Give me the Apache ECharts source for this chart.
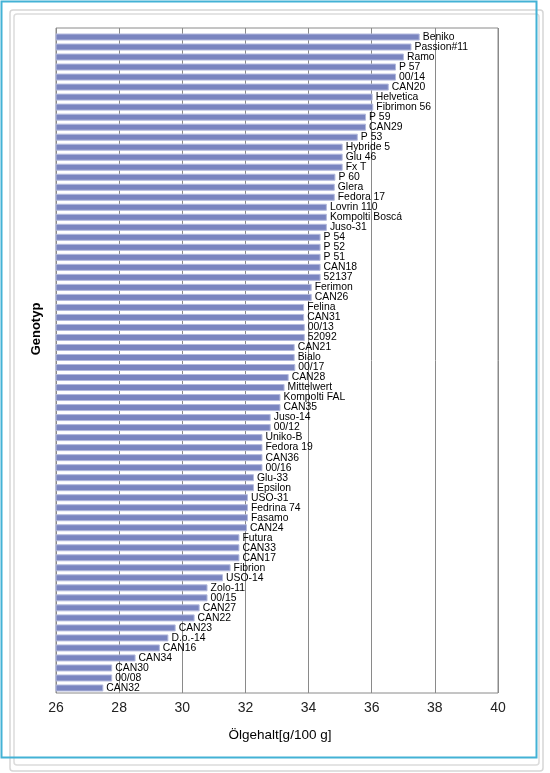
<!DOCTYPE html>
<html>
<head>
<meta charset="utf-8">
<script src="https://cdn.jsdelivr.net/npm/echarts@6/dist/echarts.min.js"></script>
<style>
html,body{margin:0;padding:0;background:#fff;}
#chart{width:550px;height:773px;}
</style>
</head>
<body>
<div id="chart"></div>
<script>
const categories = ["Beniko","Passion#11","Ramo","P 57","00/14","CAN20","Helvetica","Fibrimon 56","P 59","CAN29","P 53","Hybride 5","Glu 46","Fx T","P 60","Glera","Fedora 17","Lovrin 110","Kompolti Boscá","Juso-31","P 54","P 52","P 51","CAN18","52137","Ferimon","CAN26","Felina","CAN31","00/13","52092","CAN21","Bialo","00/17","CAN28","Mittelwert","Kompolti FAL","CAN35","Juso-14","00/12","Uniko-B","Fedora 19","CAN36","00/16","Glu-33","Epsilon","USO-31","Fedrina 74","Fasamo","CAN24","Futura","CAN33","CAN17","Fibrion","USO-14","Zolo-11","00/15","CAN27","CAN22","CAN23","D.o.-14","CAN16","CAN34","CAN30","00/08","CAN32"];
const oilContent = [37.52,37.26,37.02,36.77,36.77,36.54,36.03,36.05,35.82,35.82,35.56,35.08,35.08,35.08,34.85,34.83,34.83,34.58,34.58,34.58,34.38,34.38,34.38,34.38,34.38,34.1,34.1,33.86,33.86,33.88,33.88,33.56,33.56,33.58,33.37,33.24,33.11,33.11,32.8,32.8,32.54,32.54,32.54,32.54,32.27,32.27,32.08,32.08,32.08,32.05,31.81,31.81,31.81,31.53,31.29,30.8,30.8,30.55,30.39,29.79,29.56,29.29,28.52,27.78,27.78,27.5];
const xTicks = {min: 26, max: 40, interval: 2};
const xTitle = "Ölgehalt[g/100 g]";
const yTitle = "Genotyp";

const chart = echarts.init(document.getElementById('chart'), null, {renderer: 'canvas'});
const font = '"Liberation Sans", Arial, sans-serif';
chart.setOption({
  animation: false,
  backgroundColor: '#fff',
  grid: [
    {left: 56, right: 52, top: 32, bottom: 80, show: false},
    {left: 56, right: 52, top: 28, bottom: 80, show: true, borderColor: '#8a8a8a', borderWidth: 1, backgroundColor: 'transparent'}
  ],
  xAxis: [
    {type: 'value', gridIndex: 0, min: xTicks.min, max: xTicks.max, interval: xTicks.interval,
     axisLine: {show: false}, axisTick: {show: false}, splitLine: {show: false},
     axisLabel: {margin: 8, fontSize: 14, color: '#222', fontFamily: font}},
    {type: 'value', gridIndex: 1, min: xTicks.min, max: xTicks.max, interval: xTicks.interval,
     axisLine: {show: false}, axisTick: {show: false}, axisLabel: {show: false},
     splitLine: {show: true, lineStyle: {color: '#8a8a8a', width: 1}}}
  ],
  yAxis: [
    {type: 'category', gridIndex: 0, data: categories, inverse: true,
     axisLine: {show: false}, axisTick: {show: false}, axisLabel: {show: false}, splitLine: {show: false}},
    {type: 'value', gridIndex: 1, min: 0, max: 1,
     axisLine: {show: false}, axisTick: {show: false}, axisLabel: {show: false}, splitLine: {show: false}}
  ],
  series: [{
    type: 'bar', xAxisIndex: 0, yAxisIndex: 0, data: oilContent, barWidth: 7, z: 3,
    itemStyle: {color: '#7a85c0', borderColor: '#b3b9dd', borderWidth: 1},
    label: {show: true, position: 'right', distance: 3, formatter: p => p.name,
            fontSize: 10.4, color: '#000', fontFamily: font}
  }],
  graphic: [
    {type: 'rect', z: 0, shape: {x: 10, y: 10, width: 533, height: 761, r: 3}, style: {fill: 'none', stroke: '#d6d6d6', lineWidth: 1.5}},
    {type: 'rect', z: 0, shape: {x: 14, y: 14, width: 525, height: 751, r: 3}, style: {fill: 'none', stroke: '#dcdcdc', lineWidth: 1.5}},
    {type: 'rect', z: 1, shape: {x: 1.5, y: 1.5, width: 535, height: 756}, style: {fill: 'none', stroke: '#43b2d5', lineWidth: 2}},
    {type: 'text', z: 5, x: 280, y: 735, style: {text: xTitle, fontSize: 13.5, fontFamily: font, fill: '#000', align: 'center', verticalAlign: 'middle'}},
    {type: 'text', z: 5, x: 36, y: 329, rotation: Math.PI / 2, style: {text: yTitle, fontSize: 13, fontWeight: 'bold', fontFamily: font, fill: '#000', align: 'center', verticalAlign: 'middle'}}
  ]
});
</script>
</body>
</html>
